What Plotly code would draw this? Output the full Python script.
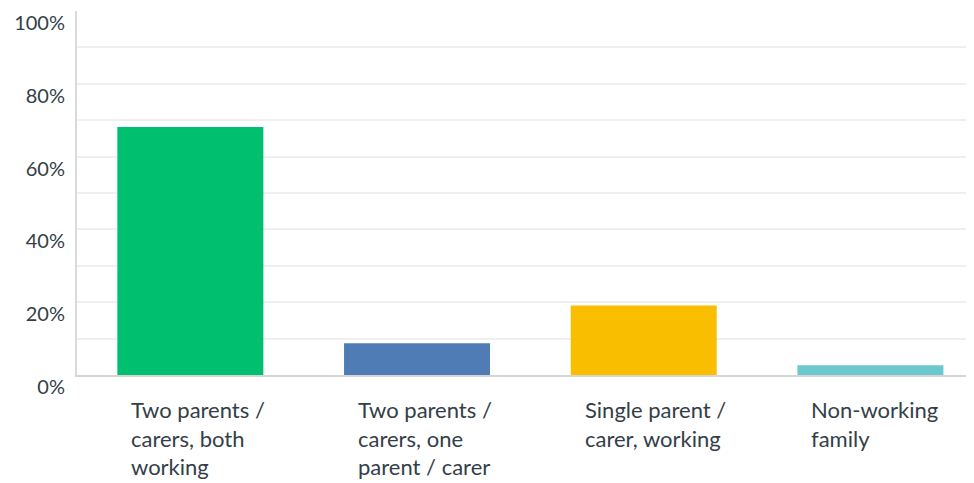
import plotly.graph_objects as go

categories = [
    "Two parents /<br>carers, both<br>working",
    "Two parents /<br>carers, one<br>parent / carer",
    "Single parent /<br>carer, working",
    "Non-working<br>family",
]
values = [68.1, 8.7, 19.1, 2.7]
colors = ["#00bf6f", "#507cb6", "#f9be00", "#6bc8cd"]

tick_vals = [0, 10, 20, 30, 40, 50, 60, 70, 80, 90, 100]
tick_text = ["0%", "", "20%", "", "40%", "", "60%", "", "80%", "", "100%"]

text_color = "#333e48"
font_family = "Lato, sans-serif"

fig = go.Figure()

fig.add_trace(
    go.Bar(x=list(range(len(values))), y=values,
           marker=dict(color=colors, line=dict(width=0)),
           hoverinfo="skip")
)

# category labels, left aligned under each bar
for i, label in enumerate(categories):
    fig.add_annotation(
        x=i - 0.5 + 0.178, y=0, xref="x", yref="y",
        text=label, showarrow=False,
        xanchor="left", yanchor="top", align="left",
        xshift=12, yshift=-19,
        font=dict(size=22, color=text_color, family=font_family),
    )

# page body adds 8px, so margins are trimmed to match
fig.update_layout(
    width=974, height=483,
    margin=dict(l=69, r=8, t=3, b=116, pad=0),
    plot_bgcolor="white", paper_bgcolor="white",
    bargap=0.356,
    showlegend=False,
    font=dict(family=font_family, color=text_color, size=19),
)

fig.update_xaxes(
    range=[-0.5, 3.457], showticklabels=False, showgrid=False,
    showline=True, linecolor="#d5d5d5", linewidth=2, zeroline=False,
    automargin=False,
)
fig.update_yaxes(
    range=[0, 100], tickvals=tick_vals, ticktext=tick_text,
    showgrid=True, gridcolor="#efefef", gridwidth=2,
    showline=True, linecolor="#dadada", linewidth=2,
    zeroline=False, ticks="", ticklabelstandoff=6, ticklabelshift=12,
    tickfont=dict(size=20, color=text_color, family=font_family),
    automargin=False,
)

fig.write_html("out.html")
